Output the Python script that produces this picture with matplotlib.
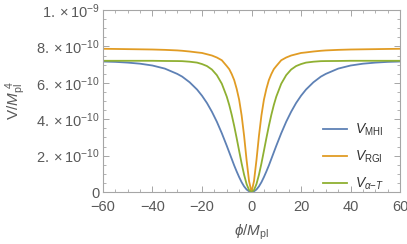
import numpy as np
import matplotlib.pyplot as plt
from matplotlib.ticker import MultipleLocator

# values (phi in M_pl, V in units of 1e-9 M_pl^4)
phi = [-60, -55, -50, -45, -40, -35, -30, -28, -25, -22, -20, -18, -16, -14, -12, -10, -9, -8, -7, -6, -5, -4, -3, -2, -1,
       0, 1, 2, 3, 4, 5, 6, 7, 8, 9, 10, 12, 14, 16, 18, 20, 22, 25, 28, 30, 35, 40, 45, 50, 55, 60]
v_mhi = [0.717, 0.715, 0.711, 0.705, 0.695, 0.678, 0.649, 0.634, 0.603, 0.563, 0.529, 0.489, 0.441, 0.386, 0.323, 0.254, 0.218,
         0.182, 0.146, 0.113, 0.082, 0.054, 0.031, 0.014, 0.004,
         0.0, 0.004, 0.014, 0.031, 0.054, 0.082, 0.113, 0.146, 0.182, 0.218, 0.254, 0.323, 0.386, 0.441, 0.489, 0.529,
         0.563, 0.603, 0.634, 0.649, 0.678, 0.695, 0.705, 0.711, 0.715, 0.717]
v_rgi = [0.787, 0.786, 0.785, 0.784, 0.783, 0.781, 0.778, 0.776, 0.772, 0.767, 0.764, 0.757, 0.750, 0.739, 0.724, 0.692, 0.675,
         0.648, 0.615, 0.567, 0.507, 0.421, 0.309, 0.176, 0.060,
         0.0, 0.060, 0.176, 0.309, 0.421, 0.507, 0.567, 0.615, 0.648, 0.675, 0.692, 0.724, 0.739, 0.750, 0.757, 0.764,
         0.767, 0.772, 0.776, 0.778, 0.781, 0.783, 0.784, 0.785, 0.786, 0.787]
v_at = [0.721, 0.721, 0.721, 0.721, 0.721, 0.720, 0.7195, 0.719, 0.716, 0.711, 0.703, 0.692, 0.673, 0.642, 0.595, 0.524, 0.478,
        0.424, 0.363, 0.296, 0.226, 0.157, 0.095, 0.044, 0.011,
        0.0, 0.011, 0.044, 0.095, 0.157, 0.226, 0.296, 0.363, 0.424, 0.478, 0.524, 0.595, 0.642, 0.673, 0.692, 0.703,
        0.711, 0.716, 0.719, 0.7195, 0.720, 0.721, 0.721, 0.721, 0.721, 0.721]

labels = [r'$V_{\mathrm{MHI}}$', r'$V_{\mathrm{RGI}}$', r'$V_{\alpha\mathrm{-}T}$']
colors = ['#5e81b5', '#e19c24', '#8fb032']

yticks = [0, 0.2e-9, 0.4e-9, 0.6e-9, 0.8e-9, 1.0e-9]
yticklabels = ['0', r'$2.\times10^{-10}$', r'$4.\times10^{-10}$', r'$6.\times10^{-10}$',
               r'$8.\times10^{-10}$', r'$1.\times10^{-9}$']
xticks = [-60, -40, -20, 0, 20, 40, 60]
xticklabels = ['\u221260', '\u221240', '\u221220', '0', '20', '40', '60']

plt.rcParams['font.family'] = ['Liberation Sans', 'DejaVu Sans']
plt.rcParams['mathtext.fontset'] = 'custom'
plt.rcParams['mathtext.rm'] = 'Liberation Sans'
plt.rcParams['mathtext.it'] = 'Liberation Sans:italic'
plt.rcParams['mathtext.bf'] = 'Liberation Sans:bold'

fig = plt.figure(figsize=(4.07, 2.44), dpi=100)
ax = fig.add_axes([0.253, 0.213, 0.730, 0.746])

x = np.array(phi)
for vals, lab, col in zip([v_mhi, v_rgi, v_at], labels, colors):
    ax.plot(x, np.array(vals) * 1e-9, color=col, lw=1.3, label=lab, solid_joinstyle='round')

ax.set_xlim(-60, 60)
ax.set_ylim(0, 1e-9)
ax.set_xticks(xticks)
ax.set_xticklabels(xticklabels)
ax.set_yticks(yticks)
ax.set_yticklabels(yticklabels)
ax.xaxis.set_minor_locator(MultipleLocator(5))
ax.yaxis.set_minor_locator(MultipleLocator(0.05e-9))

gray = '#a6a6a6'
txt = '#595959'
for s in ax.spines.values():
    s.set_color(gray)
    s.set_linewidth(0.8)
ax.tick_params(which='both', direction='in', top=True, right=True, color=gray,
               labelcolor=txt, labelsize=10.5)
ax.tick_params(axis='x', pad=6)
ax.tick_params(axis='y', pad=2.5)
ax.tick_params(which='major', length=4, width=0.7)
ax.tick_params(which='minor', length=2, width=0.6)

ax.set_xlabel(r'$\phi/M_{\mathrm{pl}}$', color=txt, fontsize=11, labelpad=6)
ax.set_ylabel(r'$\mathrm{V}/M_{\mathrm{pl}}^{\ 4}$', color=txt, fontsize=11, labelpad=6)

ax.legend(loc='lower left', bbox_to_anchor=(0.74, 0.0), frameon=False, fontsize=10,
          borderpad=0, borderaxespad=0, handlelength=1.75, handletextpad=0.55,
          labelspacing=0.75, labelcolor='#333333')

fig.savefig('out.png', dpi=100)
